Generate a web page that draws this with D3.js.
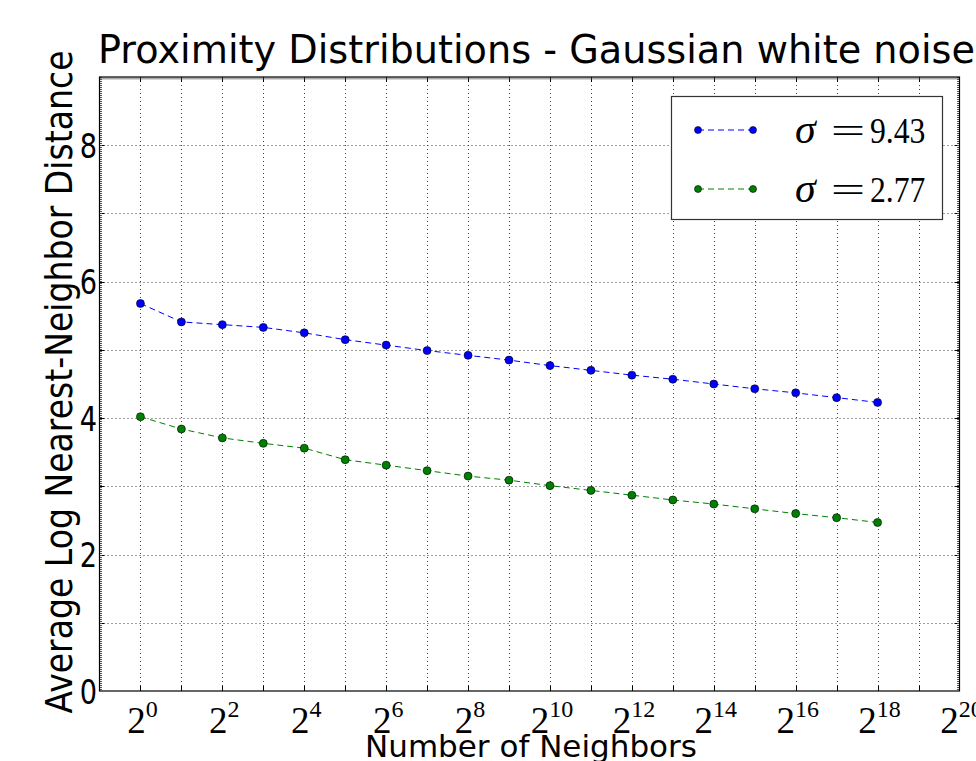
<!DOCTYPE html>
<html>
<head>
<meta charset="utf-8">
<script src="https://cdn.jsdelivr.net/npm/d3@7"></script>
<style>
  body { margin: 0; background: #fff; }
  svg { display: block; }
</style>
</head>
<body>
<div id="chart"></div>
<script>
(function () {

    // exponent n of 2^n on the x axis
    const NEIGHBOR_EXP = d3.range(0, 19)
    const SIGMA_HIGH = [5.68, 5.41, 5.37, 5.33, 5.25, 5.15, 5.07, 4.99, 4.92, 4.85,
        4.77, 4.70, 4.63, 4.57, 4.50, 4.43, 4.37, 4.30, 4.23]
    const SIGMA_LOW = [4.02, 3.84, 3.71, 3.63, 3.56, 3.39, 3.31, 3.23, 3.15, 3.09,
        3.01, 2.94, 2.87, 2.80, 2.74, 2.67, 2.60, 2.54, 2.47]
    const SERIES_LABELS = ["9.43", "2.77"]
    const SERIES_COLORS = ["#0000ff", "#008000"]
    const X_TICKS = d3.range(0, 21, 2)
    const Y_TICKS = [0, 2, 4, 6, 8]

    const width = 976, height = 761
    const left = 99.5, right = 959.5, top = 77, bottom = 691

    const svg = d3.select("#chart")
        .append("svg")
        .attr("width", width)
        .attr("height", height)

    svg.append("rect").attr("width", width).attr("height", height).attr("fill", "#fff")

    const xScale = d3.scaleLinear().domain([-1, 20]).range([left, right])
    const yScale = d3.scaleLinear().domain([0, 9]).range([bottom, top])

    // dotted grid on every integer
    const grid = svg.append("g")
        .attr("stroke", "#000")
        .attr("stroke-width", 1)
        .attr("stroke-dasharray", "1,3")
        .attr("opacity", 0.75)
    grid.selectAll("line.gx")
        .data(d3.range(0, 20))
        .enter().append("line")
        .attr("x1", d => Math.round(xScale(d)) + 0.5).attr("x2", d => Math.round(xScale(d)) + 0.5)
        .attr("y1", top).attr("y2", bottom)
    grid.selectAll("line.gy")
        .data(d3.range(1, 9))
        .enter().append("line")
        .attr("y1", d => Math.round(yScale(d)) + 0.5).attr("y2", d => Math.round(yScale(d)) + 0.5)
        .attr("x1", left).attr("x2", right)

    // tick marks inside the frame
    const ticks = svg.append("g").attr("stroke", "#000").attr("stroke-width", 1)
    d3.range(0, 20).forEach(d => {
        const x = Math.round(xScale(d)) + 0.5
        ticks.append("line").attr("x1", x).attr("x2", x).attr("y1", bottom).attr("y2", bottom - 5)
        ticks.append("line").attr("x1", x).attr("x2", x).attr("y1", top).attr("y2", top + 5)
    })
    d3.range(1, 9).forEach(d => {
        const y = Math.round(yScale(d)) + 0.5
        ticks.append("line").attr("y1", y).attr("y2", y).attr("x1", left).attr("x2", left + 5)
        ticks.append("line").attr("y1", y).attr("y2", y).attr("x1", right).attr("x2", right - 5)
    })

    // ruler-like texture along spines
    const ruler = svg.append("g")
        .attr("stroke", "#555")
        .attr("stroke-width", 2)
        .attr("stroke-dasharray", "1,1")
    ruler.append("line").attr("x1", left).attr("x2", right).attr("y1", top + 1.5).attr("y2", top + 1.5)
    ruler.append("line").attr("x1", left + 1.5).attr("x2", left + 1.5).attr("y1", top).attr("y2", bottom)
    ruler.append("line").attr("x1", right - 1.5).attr("x2", right - 1.5).attr("y1", top).attr("y2", bottom)

    svg.append("rect")
        .attr("x", left).attr("y", top)
        .attr("width", right - left).attr("height", bottom - top)
        .attr("fill", "none").attr("stroke", "#000").attr("stroke-width", 1.2)

    // series
    const line = d3.line().x(d => xScale(d[0])).y(d => yScale(d[1]))
    const series = [SIGMA_HIGH, SIGMA_LOW].map(vals => NEIGHBOR_EXP.map((n, i) => [n, vals[i]]))

    series.forEach((pts, k) => {
        svg.append("path")
            .attr("d", line(pts))
            .attr("fill", "none")
            .attr("stroke", SERIES_COLORS[k])
            .attr("stroke-width", 1)
            .attr("stroke-dasharray", "6,4")
        svg.append("g")
            .selectAll("circle")
            .data(pts)
            .enter().append("circle")
            .attr("cx", d => xScale(d[0]))
            .attr("cy", d => yScale(d[1]))
            .attr("r", 4)
            .attr("fill", SERIES_COLORS[k])
            .attr("stroke", "#000")
            .attr("stroke-width", 0.6)
    })

    // y tick labels
    svg.append("g").selectAll("text")
        .data(Y_TICKS)
        .enter().append("text")
        .attr("transform", d => `translate(97,${yScale(d) + 12.5}) scale(0.8,1)`)
        .attr("text-anchor", "end")
        .attr("font-family", "DejaVu Sans")
        .attr("font-size", 34)
        .text(d => d)

    // x tick labels 2^n
    const xt = svg.append("g").selectAll("text")
        .data(X_TICKS)
        .enter().append("text")
        .attr("x", d => xScale(d) + 2)
        .attr("y", 733)
        .attr("text-anchor", "middle")
        .attr("font-family", "Liberation Serif, DejaVu Serif, serif")
        .attr("font-size", 37)
    xt.append("tspan").text("2")
    xt.append("tspan").attr("dy", -16).attr("font-size", 24).text(d => d)

    // titles
    svg.append("text")
        .attr("x", 98).attr("y", 63)
        .attr("font-family", "DejaVu Sans")
        .attr("font-size", 39)
        .attr("textLength", 877)
        .attr("lengthAdjust", "spacingAndGlyphs")
        .text("Proximity Distributions - Gaussian white noise")

    svg.append("text")
        .attr("transform", "translate(72,382) rotate(-90)")
        .attr("text-anchor", "middle")
        .attr("font-family", "DejaVu Sans")
        .attr("font-size", 38)
        .attr("textLength", 663)
        .attr("lengthAdjust", "spacingAndGlyphs")
        .text("Average Log Nearest-Neighbor Distance")

    svg.append("text")
        .attr("x", 531).attr("y", 757)
        .attr("text-anchor", "middle")
        .attr("font-family", "DejaVu Sans")
        .attr("font-size", 31)
        .text("Number of Neighbors")

    // legend
    const legend = svg.append("g")
    legend.append("rect")
        .attr("x", 671.5).attr("y", 96.5)
        .attr("width", 271).attr("height", 123)
        .attr("fill", "#fff").attr("stroke", "#333").attr("stroke-width", 1.2)

    SERIES_LABELS.forEach((lab, k) => {
        const y = 130 + k * 59
        const g = legend.append("g").attr("transform", `translate(0,${y})`)
        g.append("line")
            .attr("x1", 698).attr("x2", 753)
            .attr("stroke", SERIES_COLORS[k]).attr("stroke-width", 1)
            .attr("stroke-dasharray", "6,4")
        ;[698, 753].forEach(cx => g.append("circle")
            .attr("cx", cx).attr("cy", 0).attr("r", 3.5)
            .attr("fill", SERIES_COLORS[k]).attr("stroke", "#000").attr("stroke-width", 0.6))
        const t = g.append("g")
            .attr("font-family", "Liberation Serif, DejaVu Serif, serif")
            .attr("font-size", 36)
        t.append("text").attr("x", 795).attr("y", 13).attr("font-style", "italic")
            .attr("font-size", 42).text("σ")
        t.append("text").attr("transform", "translate(848,13) scale(1.7,1)")
            .attr("text-anchor", "middle").text("=")
        t.append("text").attr("transform", "translate(870,13) scale(0.88,1)").text(lab)
    })

})()
</script>
</body>
</html>
